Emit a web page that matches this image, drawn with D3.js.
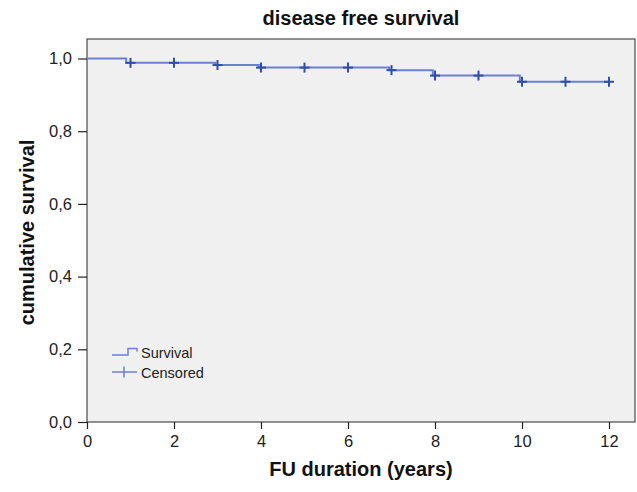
<!DOCTYPE html>
<html>
<head>
<meta charset="utf-8">
<script src="https://cdn.jsdelivr.net/npm/d3@7"></script>
<style>
  body { margin: 0; background: #fff; }
  text { font-family: "Liberation Sans", Arial, sans-serif; }
</style>
</head>
<body>
<svg id="chart" width="637" height="492"></svg>
<script>
// event times and the survival level after each step
const stepTimes = [0, 0.9, 2.95, 3.95, 6.95, 7.95, 9.95, 12];
const stepLevels = [1.0, 0.988, 0.982, 0.975, 0.968, 0.953, 0.936, 0.936];
// censored observations
const censorTimes = [1, 2, 3, 4, 5, 6, 7, 8, 9, 10, 11, 12];
const xTicks = [0, 2, 4, 6, 8, 10, 12];
const yTicks = [0, 0.2, 0.4, 0.6, 0.8, 1.0];

const svg = d3.select('#chart');
const plotLeft = 87, plotRight = 635, plotTop = 39, plotBottom = 422;

const x = d3.scaleLinear().domain([0, 12]).range([plotLeft, 609]);
const y = d3.scaleLinear().domain([0, 1]).range([plotBottom, 58.5]);

const lineColor = '#6a80d2';
const markColor = '#2f4ea8';

svg.append('rect')
    .attr('x', plotLeft).attr('y', plotTop)
    .attr('width', plotRight - plotLeft).attr('height', plotBottom - plotTop)
    .attr('fill', '#f0f0f0')
    .attr('stroke', '#4a4a4a')
    .attr('stroke-width', 1.2);

// axes
const xAxis = d3.axisBottom(x).tickValues(xTicks).tickSize(7).tickSizeOuter(0).tickPadding(6);
const yAxis = d3.axisLeft(y).tickValues(yTicks).tickSize(9).tickSizeOuter(0).tickPadding(6)
    .tickFormat(d => d3.format('.1f')(d).replace('.', ','));

const gx = svg.append('g').attr('transform', `translate(0,${plotBottom})`).call(xAxis);
const gy = svg.append('g').attr('transform', `translate(${plotLeft},0)`).call(yAxis);
[gx, gy].forEach(g => {
    g.select('.domain').remove();
    g.selectAll('line').attr('stroke', '#222').attr('stroke-width', 1.2);
    g.selectAll('text').attr('fill', '#222').style('font-size', '16.5px');
});

// survival step line
const stepData = stepTimes.map((t, i) => [t, stepLevels[i]]);
svg.append('path')
    .datum(stepData)
    .attr('fill', 'none')
    .attr('stroke', lineColor)
    .attr('stroke-width', 2)
    .attr('d', d3.line().x(d => x(d[0])).y(d => y(d[1])).curve(d3.curveStepAfter));

// censor marks
function levelAt(t) {
    let v = stepLevels[0];
    stepTimes.forEach((s, i) => { if (s <= t) v = stepLevels[i]; });
    return v;
}
const marks = svg.append('g').attr('stroke', markColor).attr('stroke-width', 2);
censorTimes.forEach(t => {
    const cx = x(t), cy = y(levelAt(t));
    marks.append('line').attr('x1', cx - 5).attr('x2', cx + 5).attr('y1', cy).attr('y2', cy);
    marks.append('line').attr('x1', cx).attr('x2', cx).attr('y1', cy - 5).attr('y2', cy + 5);
});

// legend
const leg = svg.append('g');
leg.append('path')
    .attr('d', 'M112,355 H128 V348.5 H137 V351.5')
    .attr('fill', 'none').attr('stroke', lineColor).attr('stroke-width', 1.5);
leg.append('line').attr('x1', 112).attr('x2', 137).attr('y1', 372).attr('y2', 372)
    .attr('stroke', lineColor).attr('stroke-width', 1.5);
leg.append('line').attr('x1', 124).attr('x2', 124).attr('y1', 366.5).attr('y2', 377.5)
    .attr('stroke', lineColor).attr('stroke-width', 1.5);
leg.append('text').attr('x', 141).attr('y', 358).text('Survival')
    .style('font-size', '14.5px').attr('fill', '#222');
leg.append('text').attr('x', 141).attr('y', 378).text('Censored')
    .style('font-size', '14.5px').attr('fill', '#222');

// titles
svg.append('text').attr('x', 361).attr('y', 25).attr('text-anchor', 'middle')
    .style('font-size', '20px').style('font-weight', 'bold').attr('fill', '#111')
    .text('disease free survival');
svg.append('text').attr('x', 361).attr('y', 476).attr('text-anchor', 'middle')
    .style('font-size', '20px').style('font-weight', 'bold').attr('fill', '#111')
    .text('FU duration (years)');
svg.append('text').attr('transform', `translate(34,${(plotTop + plotBottom) / 2 + 2}) rotate(-90)`)
    .attr('text-anchor', 'middle')
    .style('font-size', '20px').style('font-weight', 'bold').attr('fill', '#111')
    .text('cumulative survival');
</script>
</body>
</html>
